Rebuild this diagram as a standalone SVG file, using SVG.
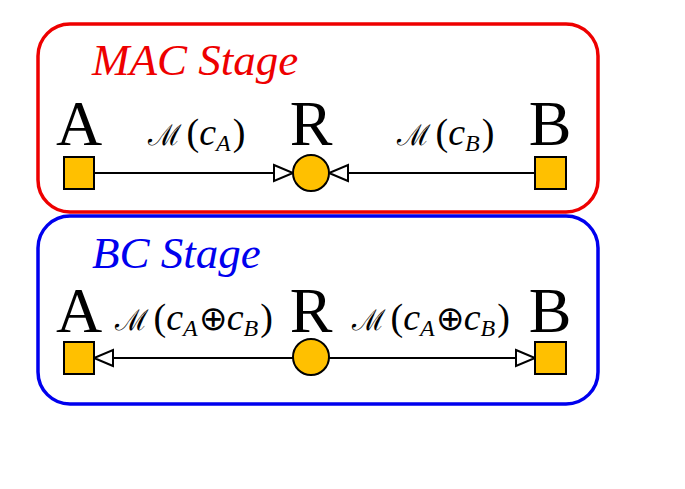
<svg xmlns="http://www.w3.org/2000/svg" width="685" height="489" viewBox="0 0 685 489">
<style>
.frame{fill:none;stroke-width:3.5}
.stage{font-family:"Liberation Serif",serif;font-style:italic;font-size:45px}
.big{font-family:"Liberation Serif",serif;font-size:64px;fill:#000;text-anchor:middle}
.lbl{font-family:"Liberation Serif",serif;font-size:38px;fill:#000}
.scr{font-family:"DejaVu Serif","Noto Sans",serif;font-style:italic;font-size:29px}
.op{font-family:"DejaVu Sans",sans-serif;font-size:34px;font-weight:200}
.it{font-style:italic}
.sub{font-style:italic;font-size:24px}
.node{fill:#FFC000;stroke:#000;stroke-width:2}
.edge{stroke:#000;stroke-width:2;fill:none}
</style>
<defs>
<marker id="tri" markerUnits="userSpaceOnUse" markerWidth="22" markerHeight="20" viewBox="0 0 22 20" refX="20" refY="10" orient="auto">
<path d="M1,2 L20,10 L1,18 Z" fill="#fff" stroke="#000" stroke-width="2"/>
</marker>
</defs>
<rect class="frame" x="38" y="24" width="560" height="188" rx="32" stroke="#EE0000"/>
<rect class="frame" x="38" y="216" width="560" height="188" rx="32" stroke="#0000EE"/>
<text class="stage" x="92" y="75" fill="#EE0000">MAC Stage</text>
<text class="stage" x="92" y="268" fill="#0000EE">BC Stage</text>
<g id="connectors">
<line class="edge" x1="94" y1="173" x2="293" y2="173" marker-end="url(#tri)"/>
<line class="edge" x1="535" y1="173" x2="329" y2="173" marker-end="url(#tri)"/>
<line class="edge" x1="293" y1="358" x2="94" y2="358" marker-end="url(#tri)"/>
<line class="edge" x1="329" y1="358" x2="535" y2="358" marker-end="url(#tri)"/>
<text class="lbl" x="148" y="145"><tspan class="scr">ℳ</tspan><tspan dx="5">(</tspan><tspan class="it">c</tspan><tspan class="sub" dy="6">A</tspan><tspan dy="-6" dx="2">)</tspan></text>
<text class="lbl" x="397" y="145"><tspan class="scr">ℳ</tspan><tspan dx="5">(</tspan><tspan class="it">c</tspan><tspan class="sub" dy="6">B</tspan><tspan dy="-6" dx="2">)</tspan></text>
<text class="lbl" x="115" y="330"><tspan class="scr">ℳ</tspan><tspan dx="5">(</tspan><tspan class="it">c</tspan><tspan class="sub" dy="6">A</tspan><tspan class="op" dy="-6" dx="1">⊕</tspan><tspan class="it" dx="0">c</tspan><tspan class="sub" dy="6">B</tspan><tspan dy="-6" dx="2">)</tspan></text>
<text class="lbl" x="352" y="330"><tspan class="scr">ℳ</tspan><tspan dx="5">(</tspan><tspan class="it">c</tspan><tspan class="sub" dy="6">A</tspan><tspan class="op" dy="-6" dx="1">⊕</tspan><tspan class="it" dx="0">c</tspan><tspan class="sub" dy="6">B</tspan><tspan dy="-6" dx="2">)</tspan></text>
</g>
<g id="mac-A"><text class="big" x="79" y="145">A</text><rect class="node" x="64" y="157" width="30" height="32"/></g>
<g id="mac-R"><text class="big" x="311" y="145">R</text><circle class="node" cx="311" cy="173" r="18"/></g>
<g id="mac-B"><text class="big" x="550" y="145">B</text><rect class="node" x="535" y="157" width="31" height="32"/></g>
<g id="bc-A"><text class="big" x="79" y="332">A</text><rect class="node" x="64" y="342" width="30" height="32"/></g>
<g id="bc-R"><text class="big" x="311" y="332">R</text><circle class="node" cx="311" cy="357" r="18"/></g>
<g id="bc-B"><text class="big" x="550" y="332">B</text><rect class="node" x="535" y="342" width="31" height="32"/></g>
</svg>
